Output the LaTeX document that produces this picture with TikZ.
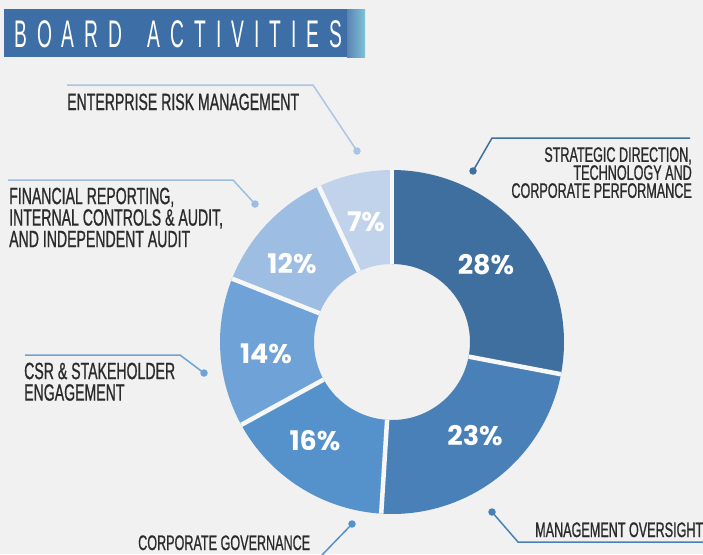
\documentclass[tikz,border=0pt]{standalone}
\usepackage{fontspec}
\setmainfont{Liberation Sans}
\newfontfamily\labfont[FakeStretch=0.6, FakeBold=0.8]{Liberation Sans}
\newfontfamily\ttlfont[FakeStretch=0.5]{Liberation Sans}
\newfontfamily\pctfont{Poppins}
\definecolor{bgcol}{HTML}{F1F1F1}
\definecolor{gapcol}{HTML}{F7F7F7}
\definecolor{txtcol}{HTML}{2B2B2B}
\definecolor{ttlcol}{HTML}{3D6EA5}
\definecolor{cA}{HTML}{3F6F9E}
\definecolor{cB}{HTML}{4A80B8}
\definecolor{cC}{HTML}{5592CC}
\definecolor{cD}{HTML}{6FA2D7}
\definecolor{cE}{HTML}{9DBDE3}
\definecolor{cF}{HTML}{C0D3EA}
\definecolor{cFline}{HTML}{AAC4E4}
\def\bdspaced#1{\bdspacedA#1\relax}
\def\bdspacedA#1{\ifx#1\relax\else#1\kern10pt\expandafter\bdspacedA\fi}
\newcommand\donutseg[3]{\fill[#3] (#1:172pt) arc[start angle=#1, end angle=#2, radius=172pt] -- (#2:78pt) arc[start angle=#2, end angle=#1, radius=78pt] -- cycle;}
\tikzset{
  labL/.style={inner sep=0pt, text=txtcol, align=left, font=\labfont\fontsize{23.5}{21.5}\selectfont},
  labR/.style={anchor=base west, inner sep=0pt, text=txtcol, font=\labfont\fontsize{21}{18}\selectfont},
  labRe/.style={anchor=north east, inner sep=0pt, text=txtcol, align=right, font=\labfont\fontsize{21}{18}\selectfont},
  pct/.style={anchor=center, inner sep=0pt, text=white, font=\pctfont\bfseries\fontsize{27}{30}\selectfont},
  lead/.style={line width=1.5pt},
  dot/.style={circle, fill=#1, inner sep=0pt, minimum size=7.5pt}
}
\begin{document}
\begin{tikzpicture}[x=1pt, y=-1pt]
\fill[bgcol] (0,0) rectangle (703,554);
\useasboundingbox (0,0) rectangle (703,554);
% title
\fill[ttlcol] (4,9) rectangle (347,57);
\shade[left color=ttlcol!85!white, right color=ttlcol!70!cyan!60!white] (347,9) rectangle (365,57);
\node[anchor=base west, inner sep=0pt, text=white, font=\ttlfont\fontsize{38.5}{40}\selectfont] (title) at (14,47) {\bdspaced{BOARD}\kern15pt\bdspaced{ACTIVITIES}};
% donut
\begin{scope}[shift={(392,342)}]
\donutseg{90}{-10.8}{cA}
\donutseg{-10.8}{-93.6}{cB}
\donutseg{-93.6}{-151.2}{cC}
\donutseg{-151.2}{-201.6}{cD}
\donutseg{-201.6}{-244.8}{cE}
\donutseg{-244.8}{-270}{cF}
\foreach \a in {90,-10.8,-93.6,-151.2,-201.6,-244.8}
  \draw[gapcol, line width=4.5pt] (\a:78pt) -- (\a:172pt);
\end{scope}
% percentages
\node[pct] (p28) at (486,265) {28\%};
\node[pct] (p23) at (475,436) {23\%};
\node[pct] (p16) at (315,441) {16\%};
\node[pct] (p14) at (266,354) {14\%};
\node[pct] (p12) at (292,264) {12\%};
\node[pct] (p7) at (366,222) {7\%};
% leaders
\coordinate (ermA) at (67,85);
\coordinate (ermB) at (313,85);
\node[dot=cFline] (ermdot) at (357,151) {};
\draw[lead, cFline] (ermA) -- (ermB) -- (ermdot.center);
\coordinate (finA) at (8,180);
\coordinate (finB) at (233,180);
\node[dot=cE] (findot) at (255,204) {};
\draw[lead, cE] (finA) -- (finB) -- (findot.center);
\coordinate (strA) at (690,138);
\coordinate (strB) at (492,138);
\node[dot=cA] (strdot) at (473,171) {};
\draw[lead, cA] (strA) -- (strB) -- (strdot.center);
\coordinate (csrA) at (25,355);
\coordinate (csrB) at (180,355);
\node[dot=cD] (csrdot) at (204,373) {};
\draw[lead, cD] (csrA) -- (csrB) -- (csrdot.center);
\coordinate (govA) at (322,555);
\node[dot=cC] (govdot) at (352,524) {};
\draw[lead, cC] (govA) -- (govdot.center);
\coordinate (mgtA) at (703,542);
\coordinate (mgtB) at (518,542);
\node[dot=cB] (mgtdot) at (492,512) {};
\draw[lead, cB] (mgtA) -- (mgtB) -- (mgtdot.center);
% labels
\node[labL, anchor=base west] (erm) at (67,110) {ENTERPRISE RISK MANAGEMENT};
\node[labL, anchor=north west] (fin) at (9,187.5) {FINANCIAL REPORTING,\\INTERNAL CONTROLS \& AUDIT,\\AND INDEPENDENT AUDIT};
\node[labL, anchor=north west] (csr) at (24,362.5) {CSR \& STAKEHOLDER\\ENGAGEMENT};
\node[labRe] (str) at (692,147) {STRATEGIC DIRECTION,\\TECHNOLOGY AND\\CORPORATE PERFORMANCE};
\node[labR] (mgt) at (535,537) {MANAGEMENT OVERSIGHT};
\node[labR] (gov) at (138,550) {CORPORATE GOVERNANCE};
\end{tikzpicture}
\end{document}
